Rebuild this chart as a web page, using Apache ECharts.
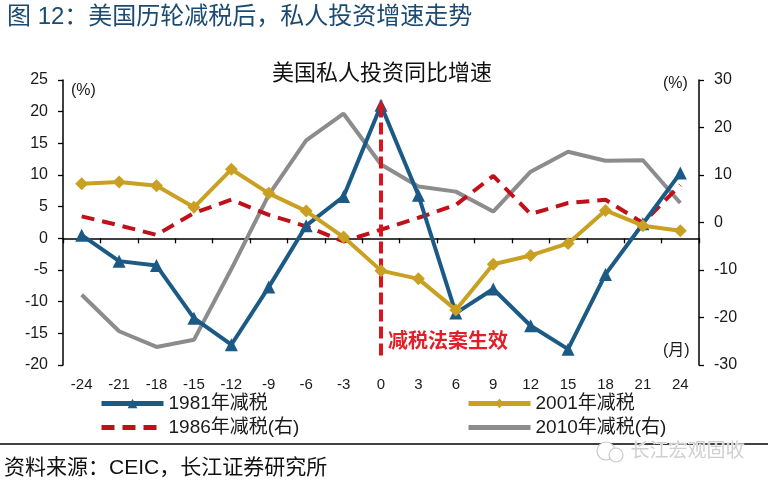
<!DOCTYPE html>
<html><head><meta charset="utf-8">
<script src="https://cdn.jsdelivr.net/npm/echarts@6/dist/echarts.min.js"></script>
<style>html,body{margin:0;padding:0;background:#fff}#c{width:768px;height:484px}</style>
</head><body><div id="c"></div>
<script>
const months = ['-24','-21','-18','-15','-12','-9','-6','-3','0','3','6','9','12','15','18','21','24'];
const tax1981 = [0.5,-3.6,-4.3,-12.6,-16.8,-7.7,2.0,6.6,21.0,6.8,-11.8,-8.0,-13.8,-17.5,-5.7,2.3,10.3];
const tax2001 = [8.6,8.9,8.3,4.9,10.9,7.1,4.3,0.2,-5.1,-6.4,-11.3,-4.1,-2.7,-0.8,4.4,2.0,1.2];
const tax1986 = [1.3,-0.6,-2.6,2.0,4.8,1.6,-0.8,-4.0,-1.5,1.0,3.7,9.8,1.8,4.1,4.8,-0.1,7.9];
const tax2010 = [-15.2,-22.9,-26.2,-24.7,-9.8,5.8,17.3,22.9,12.2,7.6,6.5,2.3,10.7,14.9,13.0,13.1,4.1];
const lawMonth = '0';
const lawLineRange = [-18.5, 21.8];
const names = ['1981年减税','2001年减税','1986年减税(右)','2010年减税(右)'];

const FF = 'Liberation Sans, Arial, Noto Sans CJK SC, sans-serif';
const C_BLUE = '#1a5a85', C_GOLD = '#c9a021', C_RED = '#c0101a', C_GRAY = '#8c8c8c';

const chart = echarts.init(document.getElementById('c'), null, {renderer: 'canvas'});
const axisLbl = {color: '#1a1a1a', fontSize: 16, fontFamily: FF};
const legendCommon = {top: 394, orient: 'vertical', itemGap: 5, itemWidth: 62, itemHeight: 12, padding: 0,
  lineStyle: {width: 5}, textStyle: {fontSize: 19, color: '#1a1a1a', fontFamily: FF}};
chart.setOption({
  backgroundColor: '#fff',
  animation: false,
  grid: {left: 63, right: 69, top: 80, bottom: 119, containLabel: false, outerBoundsMode: 'none'},
  xAxis: [
    {type: 'category', data: months, position: 'bottom', boundaryGap: true,
     axisLine: {show: false, onZero: false}, axisTick: {show: false},
     axisLabel: {color: '#1a1a1a', fontSize: 15, fontFamily: FF, margin: 12}},
    {type: 'category', data: months, position: 'bottom', boundaryGap: true,
     axisLine: {show: true, onZero: true, onZeroAxisIndex: 0, lineStyle: {color: '#000', width: 1.5}},
     axisTick: {show: true, inside: false, length: 5, lineStyle: {color: '#000', width: 1.3}},
     axisLabel: {show: false}}
  ],
  yAxis: [
    {type: 'value', min: -20, max: 25, interval: 5, position: 'left',
     axisLine: {show: true, onZero: false, lineStyle: {color: '#000', width: 1.5}},
     axisTick: {show: true, length: 5, lineStyle: {color: '#000', width: 1.3}},
     axisLabel: Object.assign({margin: 15}, axisLbl), splitLine: {show: false}},
    {type: 'value', min: -30, max: 30, interval: 10, position: 'right',
     axisLine: {show: true, onZero: false, lineStyle: {color: '#000', width: 1.5}},
     axisTick: {show: true, length: 5, lineStyle: {color: '#000', width: 1.3}},
     axisLabel: Object.assign({margin: 15}, axisLbl), splitLine: {show: false}}
  ],
  legend: [
    Object.assign({left: 99, data: [{name: names[0]}, {name: names[2], itemStyle: {opacity: 0}}]}, legendCommon),
    Object.assign({left: 466, data: [{name: names[1]}, {name: names[3], itemStyle: {opacity: 0}}]}, legendCommon)
  ],
  series: [
    {name: names[3], type: 'line', yAxisIndex: 1, data: tax2010, symbol: 'none',
     lineStyle: {color: C_GRAY, width: 4}, itemStyle: {color: C_GRAY}, z: 2},
    {name: names[2], type: 'line', yAxisIndex: 1, data: tax1986, symbol: 'none',
     lineStyle: {color: C_RED, width: 4, type: [13, 8]}, itemStyle: {color: C_RED}, z: 3},
    {name: names[0], type: 'line', yAxisIndex: 0, data: tax1981, symbol: 'triangle', symbolSize: 13,
     lineStyle: {color: C_BLUE, width: 4}, itemStyle: {color: C_BLUE}, z: 4},
    {name: names[1], type: 'line', yAxisIndex: 0, data: tax2001, symbol: 'diamond', symbolSize: 13,
     lineStyle: {color: C_GOLD, width: 4}, itemStyle: {color: C_GOLD}, z: 5},
    {name: 'law', type: 'line', yAxisIndex: 0, data: [], z: 10,
     markLine: {silent: true, symbol: ['none', 'arrow'], symbolSize: [7, 10],
       label: {show: false},
       lineStyle: {color: '#d9141e', width: 4, type: [12, 5]},
       data: [[{coord: [lawMonth, lawLineRange[0]]}, {coord: [lawMonth, lawLineRange[1]]}]]}}
  ],
  graphic: [
    {type: 'text', left: 7, top: 5, style: {text: '图 12：美国历轮减税后，私人投资增速走势', fontSize: 24, fill: '#1b4a72', fontFamily: FF}},
    {type: 'text', left: 272, top: 63, style: {text: '美国私人投资同比增速', fontSize: 22, fill: '#111', fontFamily: FF}},
    {type: 'text', left: 71, top: 83, style: {text: '(%)', fontSize: 16, fill: '#1a1a1a', fontFamily: FF}},
    {type: 'text', left: 663, top: 76, style: {text: '(%)', fontSize: 16, fill: '#1a1a1a', fontFamily: FF}},
    {type: 'text', left: 663, top: 343, style: {text: '(月)', fontSize: 16, fill: '#1a1a1a', fontFamily: FF}},
    {type: 'text', left: 388, top: 332, style: {text: '减税法案生效', fontSize: 20, fontWeight: 'bold', fill: '#e41e26', fontFamily: FF}},
    {type: 'line', shape: {x1: 0, y1: 444, x2: 768, y2: 444}, style: {stroke: '#000', lineWidth: 1.5}},
    {type: 'circle', shape: {cx: 606, cy: 451, r: 9}, style: {fill: '#fff', stroke: '#c8c8c8', lineWidth: 1.2}},
    {type: 'circle', shape: {cx: 616, cy: 455, r: 7}, style: {fill: '#fff', stroke: '#c8c8c8', lineWidth: 1.2}},
    {type: 'text', left: 630, top: 442, style: {text: '长江宏观固收', fontSize: 19, fill: '#d0d0d0', stroke: '#fff', lineWidth: 1, fontFamily: FF}},
    {type: 'text', left: 4, top: 458, style: {text: '资料来源：CEIC，长江证券研究所', fontSize: 21, fill: '#111', fontFamily: FF}}
  ]
});
</script></body></html>
